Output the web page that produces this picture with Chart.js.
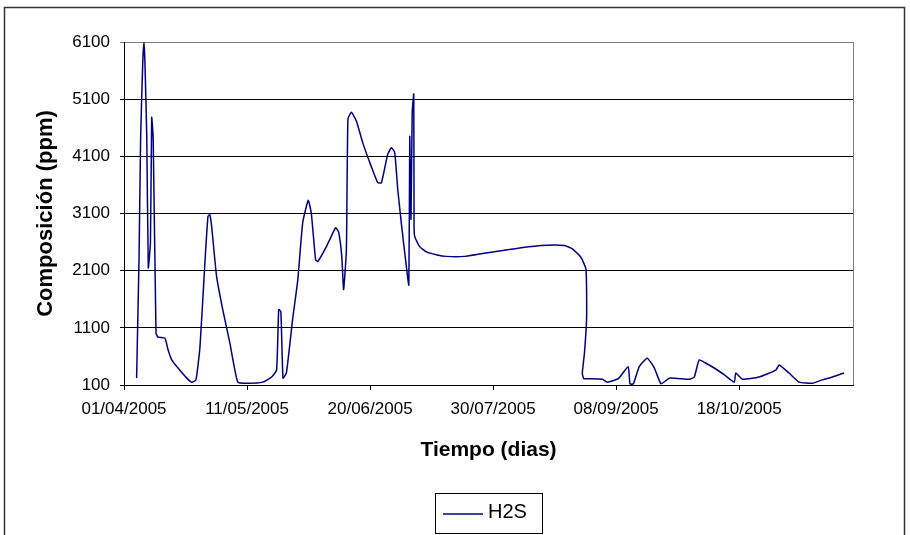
<!DOCTYPE html>
<html>
<head>
<meta charset="utf-8">
<script src="https://cdn.jsdelivr.net/npm/chart.js@4.4.1/dist/chart.umd.min.js"></script>
<style>
  html, body { margin: 0; padding: 0; background: #fff; }
</style>
</head>
<body>
<canvas id="h2sChart" width="910" height="535"></canvas>
<script>
// days counted from 01/04/2005
const seriesLabel = 'H2S';
const days = [
  4.1, 4.3, 4.9, 5.4, 6.1, 6.5, 6.8, 7.4, 7.9, 8.6, 9.0, 9.5, 10.4, 11.0, 13.3, 14.3,
  15.5, 17.5, 20.4, 22.0, 23.4, 24.7, 26.3, 27.3, 27.9, 28.5, 30.1, 32.1, 34.4, 37.0,
  40.3, 45.1, 48.0, 49.6, 50.3, 51.0, 51.7, 52.8, 54.8, 56.5, 58.1, 59.9, 60.9, 62.3,
  63.0, 65.8, 68.8, 69.8, 70.8, 71.4, 72.3, 72.8, 73.9, 75.6, 77.6, 80.4, 82.5, 83.7,
  85.7, 86.9, 88.0, 89.0, 90.2, 91.8, 92.6, 92.9, 93.3, 93.7, 94.2, 94.3, 94.5, 96.1,
  98.3, 101.5, 104.8, 110.7, 116.6, 125.3, 129.1, 135.6, 143.2, 145.8, 148.6, 150.2,
  150.4, 149.7, 149.0, 149.4, 149.7, 155.5, 157.1, 160.7, 163.9, 164.5, 165.6, 167.5,
  170.1, 172.4, 174.6, 177.3, 183.8, 185.4, 187.0, 189.2, 192.4, 195.1, 198.4, 198.9,
  201.1, 206.5, 211.9, 213.0, 216.2, 219.5, 223.8, 227.0, 230.3, 234.1
];
const h2s = [
  220, 750, 2350, 4400, 5750, 6100, 5750, 4450, 2150, 2600, 4780, 4400, 1010, 940, 920, 720,
  540, 400, 220, 150, 190, 770, 2240, 3050, 3080, 2870, 2000, 1420, 840, 150,
  130, 150, 240, 360, 1420, 1380, 220, 310, 1240, 1940, 2940, 3330, 3100, 2290,
  2260, 2520, 2850, 2770, 2350, 1770, 2470, 4750, 4870, 4710, 4340, 3920, 3640, 3640,
  4130, 4250, 4170, 3520, 2910, 2170, 1850, 4450, 3000, 4870, 5190, 2870, 2700, 2520,
  2430, 2380, 2350, 2350, 2400, 2470, 2500, 2540, 2540, 2480, 2330, 2120,
  1290, 660, 310, 220, 210, 200, 150, 210, 420, 120, 120, 420,
  570, 400, 120, 220, 200, 240, 540, 480, 380, 280, 150, 310,
  200, 240, 360, 450, 310, 150, 130, 190, 240, 310
];
const xTickDays = [0, 40, 80, 120, 160, 200];
const xTickLabels = ['01/04/2005', '11/05/2005', '20/06/2005', '30/07/2005', '08/09/2005', '18/10/2005'];
const yTicks = [100, 1100, 2100, 3100, 4100, 5100, 6100];

const FONT = "'Liberation Sans', Arial, sans-serif";
const LINE_COLOR = '#000080';

const framePlugin = {
  id: 'frame',
  beforeDraw(chart) {
    const ctx = chart.ctx;
    ctx.save();
    ctx.fillStyle = '#fff';
    ctx.fillRect(0, 0, chart.width, chart.height);
    ctx.restore();
  },
  afterDraw(chart) {
    const { ctx, chartArea: a } = chart;
    ctx.save();
    // right edge of plot area
    ctx.strokeStyle = '#808080';
    ctx.lineWidth = 1;
    ctx.beginPath();
    ctx.moveTo(a.right + 0.5, a.top);
    ctx.lineTo(a.right + 0.5, a.bottom);
    ctx.stroke();

    // outer frame
    ctx.strokeStyle = '#333';
    ctx.lineWidth = 1.5;
    ctx.strokeRect(4.5, 7.5, 900, 560);

    // legend box
    ctx.strokeStyle = '#000';
    ctx.lineWidth = 1;
    ctx.strokeRect(435.5, 493.5, 107, 40);
    ctx.strokeStyle = LINE_COLOR;
    ctx.lineWidth = 1.5;
    ctx.beginPath();
    ctx.moveTo(443, 514);
    ctx.lineTo(483, 514);
    ctx.stroke();
    ctx.fillStyle = '#000';
    ctx.font = '20px ' + FONT;
    ctx.textBaseline = 'middle';
    ctx.textAlign = 'left';
    ctx.fillText(seriesLabel, 488, 512);
    ctx.restore();
  }
};

new Chart(document.getElementById('h2sChart'), {
  type: 'line',
  data: {
    datasets: [{
      label: seriesLabel,
      data: days.map((d, i) => ({ x: d, y: h2s[i] })),
      borderColor: LINE_COLOR,
      borderWidth: 1.5,
      pointRadius: 0,
      tension: 0.15,
      fill: false
    }]
  },
  options: {
    responsive: false,
    animation: false,
    layout: { padding: { left: 0, top: 42, right: 57, bottom: 60 } },
    plugins: {
      legend: { display: false },
      tooltip: { enabled: false }
    },
    scales: {
      x: {
        type: 'linear',
        min: 0,
        max: 237,
        afterBuildTicks: s => { s.ticks = xTickDays.map(v => ({ value: v })); },
        afterFit: s => { s.height = 90; },
        ticks: {
          callback: v => xTickLabels[xTickDays.indexOf(v)] ?? '',
          font: { family: FONT, size: 17 },
          color: '#000',
          maxRotation: 0,
          autoSkip: false,
          padding: 9
        },
        grid: { drawOnChartArea: false, drawTicks: true, tickLength: 5, color: '#000' },
        border: { color: '#000', width: 1 },
        title: {
          display: true,
          text: 'Tiempo (dias)',
          color: '#000',
          font: { family: FONT, size: 21, weight: 'bold' },
          padding: { top: 0, bottom: 12 }
        }
      },
      y: {
        min: 100,
        max: 6100,
        afterBuildTicks: s => { s.ticks = yTicks.map(v => ({ value: v })); },
        afterFit: s => { s.width = 124; },
        ticks: {
          callback: v => String(v),
          font: { family: FONT, size: 17 },
          color: '#000',
          padding: 10
        },
        grid: {
          color: c => (c.tick && c.tick.value === 6100 ? '#808080' : '#000'),
          tickLength: 4
        },
        border: { color: '#000', width: 1 },
        title: {
          display: true,
          text: 'Composición (ppm)',
          color: '#000',
          font: { family: FONT, size: 22, weight: 'bold' },
          padding: { top: 33, bottom: 0 }
        }
      }
    }
  },
  plugins: [framePlugin]
});
</script>
</body>
</html>
